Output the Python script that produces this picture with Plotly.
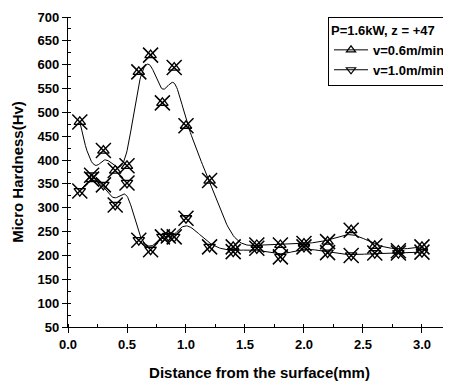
import numpy as np
import plotly.graph_objects as go

# data
x1 = [0.1, 0.2, 0.3, 0.4, 0.5, 0.6, 0.7, 0.8, 0.9, 1.0, 1.2, 1.4, 1.6, 1.8, 2.0, 2.2, 2.4, 2.6, 2.8, 3.0]
y1 = [480, 360, 420, 378, 388, 585, 620, 520, 594, 472, 357, 218, 222, 222, 225, 229, 253, 220, 210, 218]
x2 = [0.1, 0.2, 0.3, 0.4, 0.5, 0.6, 0.7, 0.8, 0.85, 0.9, 1.0, 1.2, 1.4, 1.6, 1.8, 2.0, 2.2, 2.4, 2.6, 2.8, 3.0]
y2 = [335, 368, 348, 306, 352, 232, 212, 239, 241, 239, 278, 218, 208, 215, 197, 218, 206, 200, 205, 205, 207]
names = ["v=0.6m/min", "v=1.0m/min"]
legend_title = "P=1.6kW, z = +47"


def bspline(xs, ys, k=3, n=300):
    P = np.column_stack([xs, ys]).astype(float)
    m = len(P)
    knots = np.concatenate([np.zeros(k), np.linspace(0, 1, m - k + 1), np.ones(k)])
    t = np.linspace(0, 1, n)
    t[-1] = 1 - 1e-12

    def basis(i, p, tt):
        if p == 0:
            return ((knots[i] <= tt) & (tt < knots[i + 1])).astype(float)
        a = np.zeros_like(tt)
        b = np.zeros_like(tt)
        d1 = knots[i + p] - knots[i]
        d2 = knots[i + p + 1] - knots[i + 1]
        if d1 > 0:
            a = (tt - knots[i]) / d1 * basis(i, p - 1, tt)
        if d2 > 0:
            b = (knots[i + p + 1] - tt) / d2 * basis(i + 1, p - 1, tt)
        return a + b

    B = np.array([basis(i, k, t) for i in range(m)])
    C = B.T @ P
    return C[:, 0], C[:, 1]


fig = go.Figure()
FONT = "Liberation Sans, Arial"

for xs, ys, nm, tri in [(x1, y1, names[0], "triangle-up-open"), (x2, y2, names[1], "triangle-down-open")]:
    cx, cy = bspline(xs, ys)
    fig.add_trace(go.Scatter(x=cx, y=cy, mode="lines", line=dict(color="black", width=1),
                             showlegend=False, hoverinfo="skip"))
    fig.add_trace(go.Scatter(x=xs, y=ys, mode="markers", name=nm, legendgroup=nm,
                             marker=dict(symbol=tri, size=10, color="black", line=dict(width=1.3, color="black")),
                             showlegend=False))
    fig.add_trace(go.Scatter(x=xs, y=ys, mode="markers", name=nm, legendgroup=nm,
                             marker=dict(symbol="x-thin-open", size=15, color="black", line=dict(width=1.5, color="black")),
                             showlegend=False))
    # legend entry
    fig.add_trace(go.Scatter(x=[None], y=[None], mode="lines+markers", name="<b>" + nm + "</b>", legendgroup=nm,
                             line=dict(color="black", width=1),
                             marker=dict(symbol=tri, size=8, color="black", line=dict(width=1.2, color="black"))))

fig.update_layout(
    width=443, height=373,
    margin=dict(l=60, r=0, t=9, b=54, autoexpand=False),
    paper_bgcolor="white", plot_bgcolor="white",
    font=dict(family=FONT, size=13, color="black"),
    showlegend=True,
    legend=dict(
        x=1, y=1, xanchor="right", yanchor="top",
        bordercolor="black", borderwidth=1, bgcolor="white",
        title=dict(text="<b>" + legend_title + "</b>", font=dict(family=FONT, size=13)),
        font=dict(family=FONT, size=13, color="black"),
        tracegroupgap=0, itemwidth=34,
    ),
)
fig.update_xaxes(
    range=[0, 3.246], tickmode="linear", tick0=0, dtick=0.5, tickformat=".1f",
    showgrid=False, zeroline=False, showline=True, linecolor="black", linewidth=1.2,
    ticks="outside", ticklen=5, tickcolor="black", automargin=False,
    minor=dict(dtick=0.25, ticks="inside", ticklen=3, tickcolor="black"),
    tickfont=dict(family=FONT, size=13, weight="bold"),
    title=dict(text="<b>Distance from the surface(mm)</b>", font=dict(family=FONT, size=15), standoff=16),
)
fig.update_yaxes(
    range=[50, 700], tickmode="linear", tick0=50, dtick=50,
    showgrid=False, zeroline=False, showline=True, linecolor="black", linewidth=1.2,
    ticks="outside", ticklen=5, tickcolor="black", automargin=False,
    minor=dict(dtick=25, ticks="inside", ticklen=3, tickcolor="black"),
    tickfont=dict(family=FONT, size=13, weight="bold"),
    title=dict(text="<b>Micro Hardness(Hv)</b>", font=dict(family=FONT, size=15), standoff=10),
)
fig.write_html("out.html")
